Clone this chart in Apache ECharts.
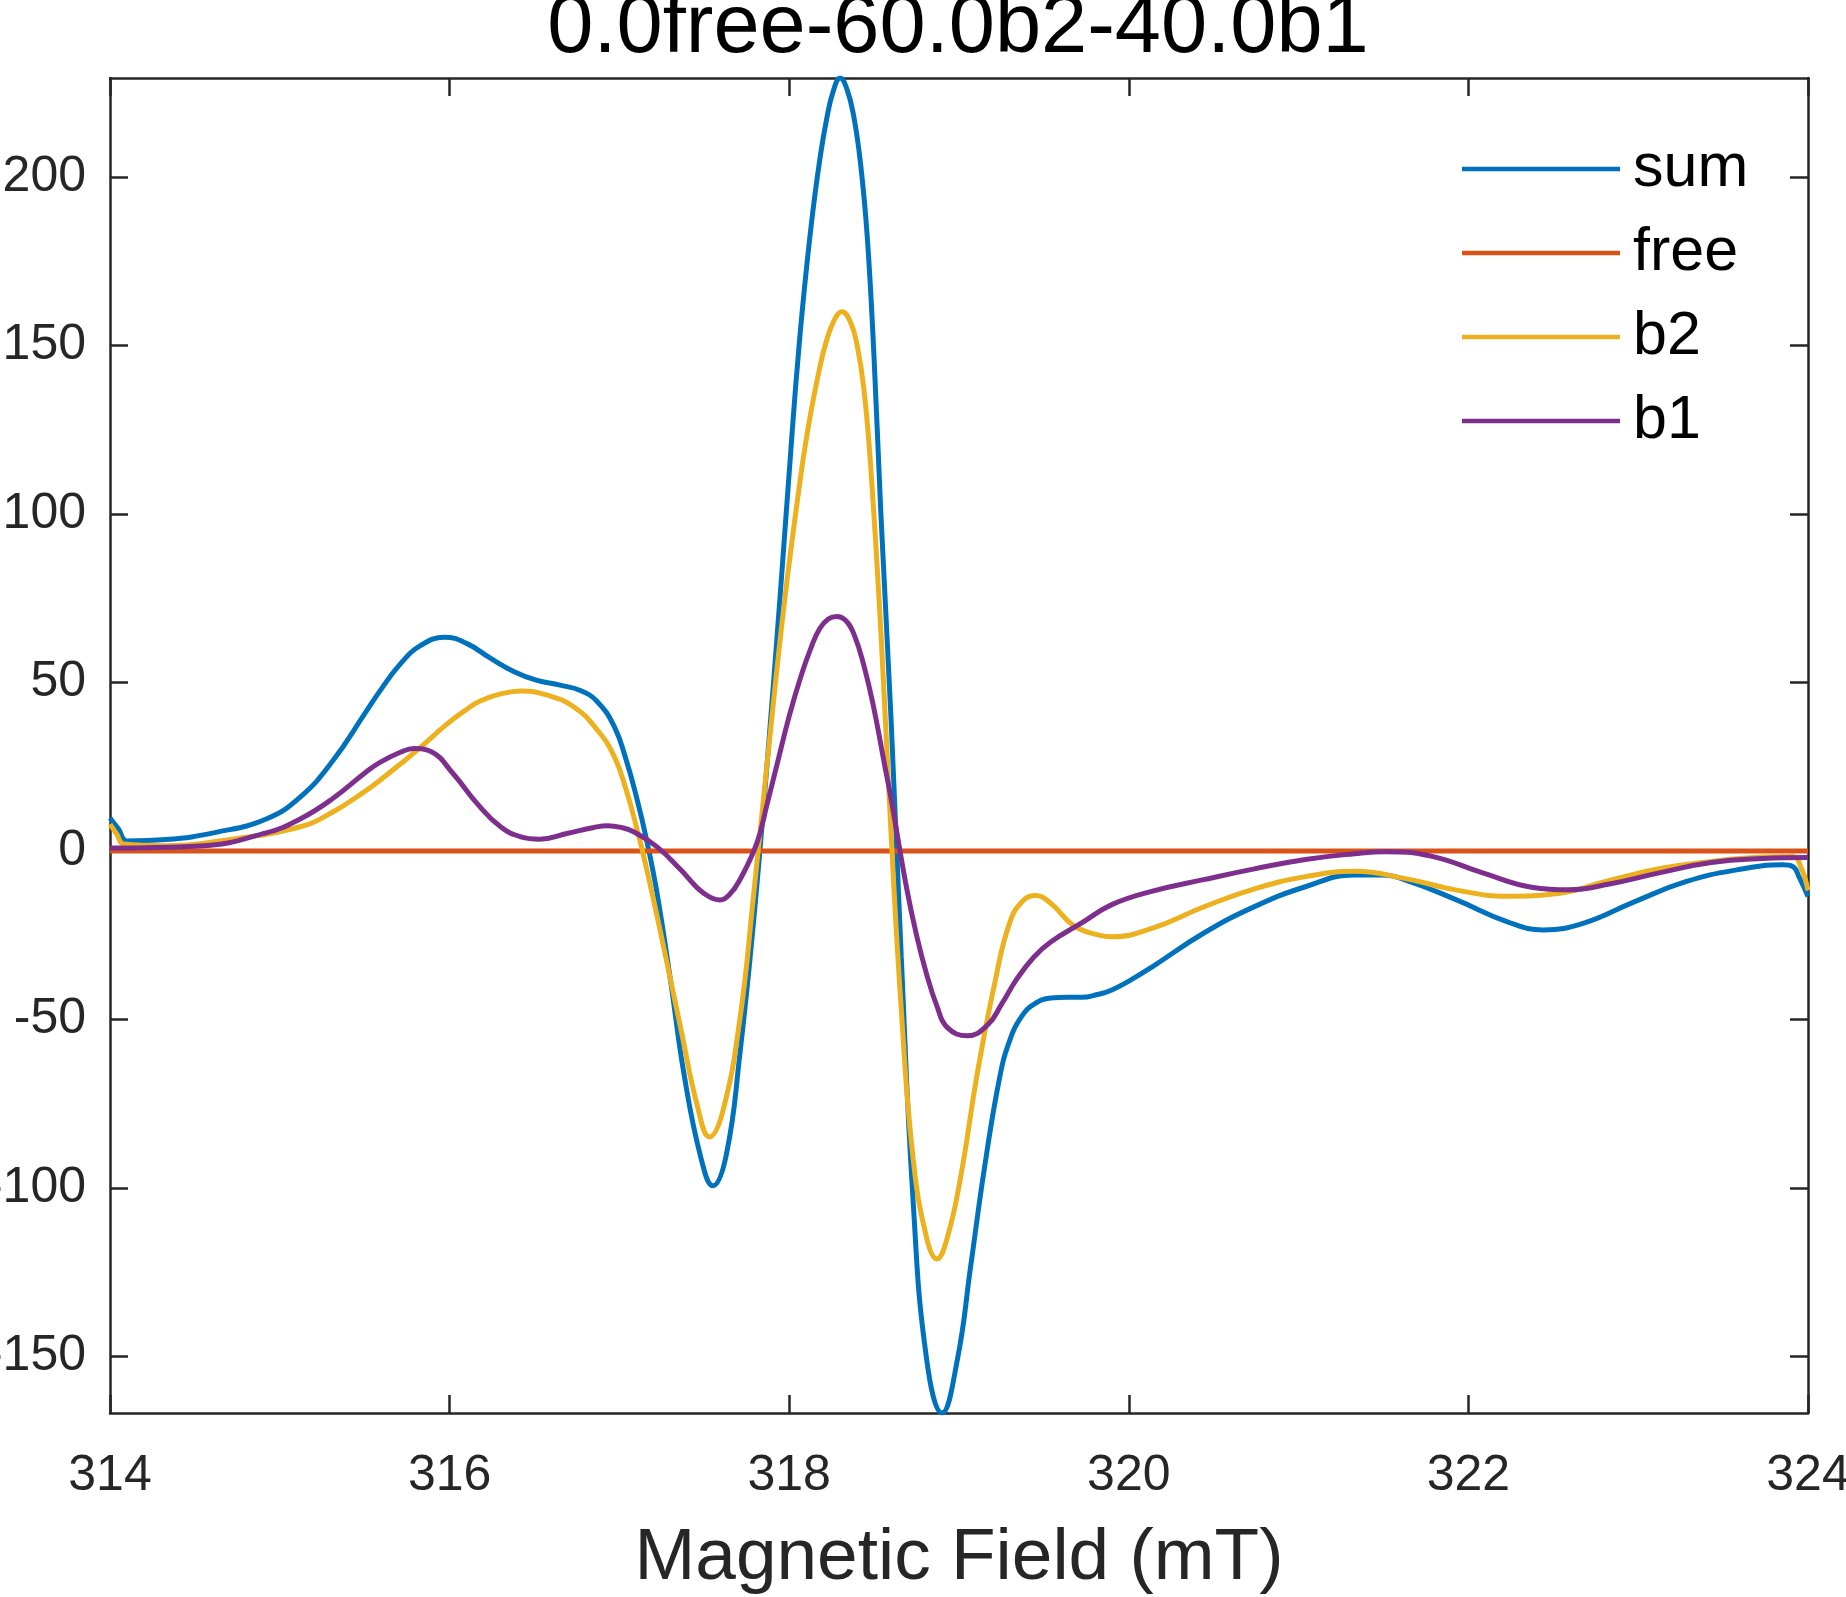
<!DOCTYPE html>
<html>
<head>
<meta charset="utf-8">
<script src="https://cdn.jsdelivr.net/npm/echarts@6/dist/echarts.min.js"></script>
<style>
html,body{margin:0;padding:0;background:#fff;}
#chart{width:1846px;height:1597px;}
</style>
</head>
<body>
<div id="chart"></div>
<script>
const titleText = '0.0free-60.0b2-40.0b1';
const xName = 'Magnetic Field (mT)';
const seriesNames = ['sum', 'free', 'b2', 'b1'];
const xTicks = [314, 316, 318, 320, 322, 324];
const yTicks = [-150, -100, -50, 0, 50, 100, 150, 200];

const sumData = [
  [314.00, 9.8], [314.05, 6.5], [314.10, 3.0], [314.33, 3.4], [314.63, 5.6], [314.92, 9.5],
  [315.12, 16], [315.31, 26.6], [315.51, 41.5], [315.59, 47.5], [315.71, 55.5], [315.83, 61],
  [315.97, 63.4], [316.10, 61.6], [316.24, 57.2], [316.38, 53.2], [316.51, 50.7], [316.65, 49.2],
  [316.77, 47.6], [316.87, 44.3], [316.97, 36.9], [317.04, 27], [317.10, 16.1], [317.16, 3.3],
  [317.22, -12], [317.30, -38], [317.38, -66], [317.48, -91], [317.55, -99.3], [317.63, -90],
  [317.71, -60], [317.79, -21], [317.87, 26], [317.95, 78], [318.02, 126], [318.06, 151],
  [318.10, 172], [318.14, 190], [318.18, 205], [318.22, 217], [318.26, 225.5], [318.30, 229.3],
  [318.34, 226], [318.38, 218], [318.42, 204], [318.46, 182], [318.50, 146], [318.54, 100],
  [318.60, 39], [318.66, -31.4], [318.73, -104], [318.81, -151], [318.90, -166.7], [318.99, -151],
  [319.07, -122.7], [319.15, -94], [319.24, -67], [319.30, -56], [319.37, -49], [319.44, -45.5],
  [319.54, -43.6], [319.64, -43.4], [319.72, -43.4], [319.82, -42.5], [319.90, -41.2], [320.02, -38],
  [320.14, -34.3], [320.44, -24.4], [320.74, -16.5], [321.04, -10.6], [321.33, -7.1], [321.48, -7.1],
  [321.63, -8.6], [321.93, -14.5], [322.23, -21], [322.44, -23.4], [322.68, -21.4], [322.98, -15],
  [323.28, -9.1], [323.58, -5.6], [323.85, -4.1], [323.91, -4.6], [323.95, -8], [324.00, -13.5]
];

const freeData = [[314.0, 0], [324.0, 0]];

const b2Data = [
  [314.00, 8.0], [314.04, 5], [314.08, 2.1], [314.33, 1.6], [314.73, 3.6], [315.12, 7.2],
  [315.31, 11.5], [315.51, 18], [315.59, 21], [315.71, 25.8], [315.83, 30.8], [315.98, 37.5],
  [316.10, 42], [316.18, 44.5], [316.30, 46.6], [316.42, 47.5], [316.57, 46.3], [316.73, 42.8],
  [316.87, 35.9], [316.97, 28], [317.04, 18.1], [317.10, 7.2], [317.15, -3], [317.24, -23.6],
  [317.36, -52.3], [317.46, -75.8], [317.53, -84.8], [317.61, -77], [317.71, -49.7], [317.79, -13.2],
  [317.87, 26], [317.97, 73], [318.07, 112], [318.12, 128], [318.17, 141], [318.22, 151.5],
  [318.27, 158], [318.31, 160], [318.36, 157], [318.40, 150], [318.44, 137], [318.48, 114],
  [318.54, 65], [318.60, 5], [318.66, -47], [318.73, -91.3], [318.81, -114.9], [318.87, -121],
  [318.93, -114.9], [319.01, -96.6], [319.11, -65.3], [319.21, -39.3], [319.30, -21], [319.38, -14.6],
  [319.45, -13.2], [319.54, -15.5], [319.68, -22.3], [319.83, -25], [319.90, -25.4], [320.14, -22.9],
  [320.44, -16.6], [320.74, -11.2], [321.04, -7.6], [321.33, -6.0], [321.63, -8.2], [321.93, -11.6],
  [322.23, -13.4], [322.53, -12.6], [322.83, -8.7], [323.13, -5.2], [323.43, -3.1], [323.73, -1.8],
  [323.91, -1.6], [323.96, -5], [324.00, -11.7]
];

const b1Data = [
  [314.00, 0.9], [314.53, 1.5], [314.92, 5.4], [315.12, 9.5], [315.31, 15.5], [315.51, 23.5],
  [315.59, 26.3], [315.71, 29.3], [315.79, 30.4], [315.89, 29.5], [316.02, 23], [316.16, 14.2],
  [316.30, 7.2], [316.42, 4.2], [316.53, 3.5], [316.69, 5.2], [316.85, 7.0], [316.93, 7.5],
  [317.01, 7.0], [317.08, 5.8], [317.22, 1.3], [317.36, -5.5], [317.46, -11], [317.53, -13.6],
  [317.59, -14.5], [317.65, -12.8], [317.71, -8.5], [317.81, 2.4], [317.87, 14], [317.93, 26],
  [318.00, 40], [318.07, 52], [318.13, 60.5], [318.18, 66], [318.23, 68.8], [318.28, 69.6],
  [318.33, 68.5], [318.38, 64.5], [318.44, 55], [318.50, 42], [318.56, 26], [318.60, 15.5],
  [318.69, -10.6], [318.75, -25], [318.81, -36.7], [318.87, -46], [318.93, -52.3], [319.05, -54.8],
  [319.17, -51.5], [319.25, -45.5], [319.34, -38], [319.44, -31.5], [319.54, -27], [319.72, -21.4],
  [319.90, -15.9], [320.14, -11.9], [320.44, -8.5], [320.74, -5.3], [321.04, -2.5], [321.33, -0.8],
  [321.51, -0.2], [321.78, -1.5], [322.08, -6.4], [322.38, -10.8], [322.59, -11.5], [322.83, -9.8],
  [323.13, -6.4], [323.43, -3.4], [323.73, -2.2], [324.00, -1.9]
];

const colors = ['#0072BD', '#D95319', '#EDB120', '#7E2F8E'];
const FONT = '"Liberation Sans", Arial, Helvetica, sans-serif';
const AX = '#262626';

const chart = echarts.init(document.getElementById('chart'), null, {renderer: 'canvas'});

function xAxisCfg(pos, showLabels) {
  return {
    type: 'value', position: pos, min: 314, max: 324, interval: 2,
    splitLine: {show: false},
    axisLine: {show: true, onZero: false, lineStyle: {color: AX, width: 2.5}},
    axisTick: {show: true, inside: true, length: 18, customValues: xTicks, lineStyle: {color: AX, width: 2.5}},
    axisLabel: {show: showLabels, color: AX, fontSize: 50, fontFamily: FONT, margin: 38,
      customValues: xTicks, showMinLabel: true, showMaxLabel: true},
    name: showLabels ? xName : '',
    nameLocation: 'middle', nameGap: 109,
    nameTextStyle: {color: AX, fontSize: 73, fontFamily: FONT}
  };
}
function yAxisCfg(pos, showLabels) {
  return {
    type: 'value', position: pos, min: -166.7, max: 229.3,
    splitLine: {show: false},
    axisLine: {show: true, onZero: false, lineStyle: {color: AX, width: 2.5}},
    axisTick: {show: true, inside: true, length: 18, customValues: yTicks, lineStyle: {color: AX, width: 2.5}},
    axisLabel: {show: showLabels, color: AX, fontSize: 50, fontFamily: FONT, margin: 24, customValues: yTicks}
  };
}

const mk = (name, data, i) => ({
  name: name, type: 'line', data: data, xAxisIndex: 0, yAxisIndex: 0,
  symbol: 'none', showSymbol: false, smooth: 0.45, clip: true,
  lineStyle: {color: colors[i], width: 5}, itemStyle: {color: colors[i]},
  animation: false
});

chart.setOption({
  animation: false,
  backgroundColor: '#fff',
  textStyle: {fontFamily: FONT},
  grid: {left: 110, right: 38, top: 78, bottom: 184, containLabel: false, outerBoundsMode: 'none'},
  graphic: [{
    type: 'text', x: 958, y: 29, z: 10,
    style: {text: titleText, fill: '#000', font: '83px ' + FONT, textAlign: 'center', textVerticalAlign: 'middle', align: 'center', verticalAlign: 'middle'}
  }],
  legend: {
    orient: 'vertical', left: 1462, top: 127, padding: 0, itemGap: 0,
    itemWidth: 158, itemHeight: 4.5, icon: 'rect',
    data: seriesNames,
    textStyle: {color: '#000', fontSize: 61, fontFamily: FONT, lineHeight: 84, padding: [0, 0, 0, 8]},
    selectedMode: false
  },
  xAxis: [xAxisCfg('bottom', true), xAxisCfg('top', false)],
  yAxis: [yAxisCfg('left', true), yAxisCfg('right', false)],
  series: [
    mk(seriesNames[0], sumData, 0),
    mk(seriesNames[1], freeData, 1),
    mk(seriesNames[2], b2Data, 2),
    mk(seriesNames[3], b1Data, 3)
  ]
});
</script>
</body>
</html>
